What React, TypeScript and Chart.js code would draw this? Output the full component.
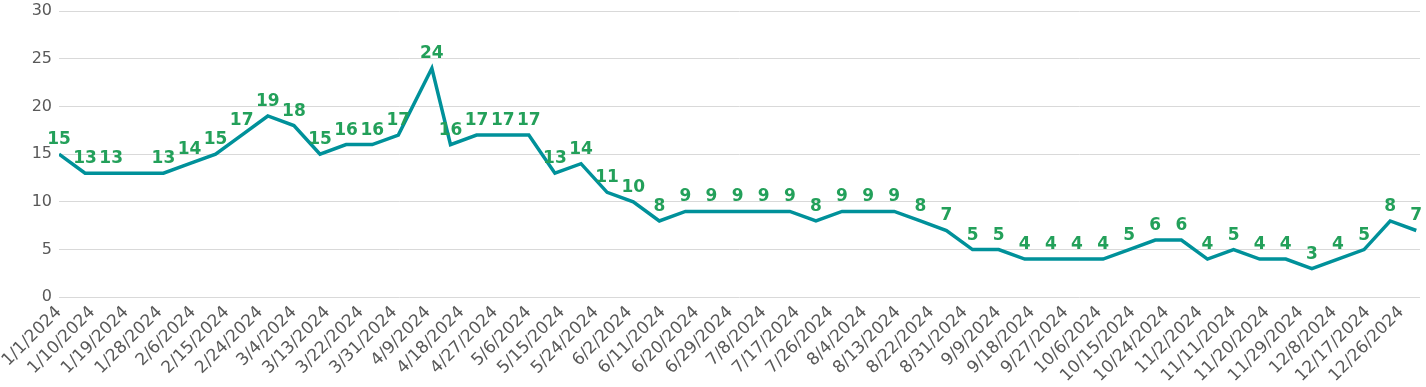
import React, { useEffect, useRef } from "react";
import { Chart, registerables } from "chart.js";

Chart.register(...registerables);

const pointDates = [
  "1/1/2024", "1/8/2024", "1/15/2024", "1/22/2024", "1/29/2024", "2/5/2024", "2/12/2024", "2/19/2024",
  "2/26/2024", "3/4/2024", "3/11/2024", "3/18/2024", "3/25/2024", "4/1/2024", "4/10/2024", "4/15/2024",
  "4/22/2024", "4/29/2024", "5/6/2024", "5/13/2024", "5/20/2024", "5/27/2024", "6/3/2024", "6/10/2024",
  "6/17/2024", "6/24/2024", "7/1/2024", "7/8/2024", "7/15/2024", "7/22/2024", "7/29/2024", "8/5/2024",
  "8/12/2024", "8/19/2024", "8/26/2024", "9/2/2024", "9/9/2024", "9/16/2024", "9/23/2024", "9/30/2024",
  "10/7/2024", "10/14/2024", "10/21/2024", "10/28/2024", "11/4/2024", "11/11/2024", "11/18/2024", "11/25/2024",
  "12/2/2024", "12/9/2024", "12/16/2024", "12/23/2024", "12/30/2024",
];

const pointValues = [
  15, 13, 13, 13, 13, 14, 15, 17,
  19, 18, 15, 16, 16, 17, 24, 16,
  17, 17, 17, 13, 14, 11, 10, 8,
  9, 9, 9, 9, 9, 8, 9, 9,
  9, 8, 7, 5, 5, 4, 4, 4,
  4, 5, 6, 6, 4, 5, 4, 4,
  3, 4, 5, 8, 7,
];

// value labels the reference does not show
const hiddenLabelDates = ["1/22/2024"];

const tickLabels = [
  "1/1/2024", "1/10/2024", "1/19/2024", "1/28/2024", "2/6/2024", "2/15/2024", "2/24/2024", "3/4/2024",
  "3/13/2024", "3/22/2024", "3/31/2024", "4/9/2024", "4/18/2024", "4/27/2024", "5/6/2024", "5/15/2024",
  "5/24/2024", "6/2/2024", "6/11/2024", "6/20/2024", "6/29/2024", "7/8/2024", "7/17/2024", "7/26/2024",
  "8/4/2024", "8/13/2024", "8/22/2024", "8/31/2024", "9/9/2024", "9/18/2024", "9/27/2024", "10/6/2024",
  "10/15/2024", "10/24/2024", "11/2/2024", "11/11/2024", "11/20/2024", "11/29/2024", "12/8/2024", "12/17/2024",
  "12/26/2024",
];

const yTickValues = [0, 5, 10, 15, 20, 25, 30];

const axisStart = "1/1/2024";
const axisEnd = "12/31/2024";

function dayIndex(s: string): number {
  const [m, d, y] = s.split("/").map(Number);
  const [m0, d0, y0] = axisStart.split("/").map(Number);
  return Math.round((Date.UTC(y, m - 1, d) - Date.UTC(y0, m0 - 1, d0)) / 86400000);
}

const FONT = "'DejaVu Sans', sans-serif";

const valueLabelPlugin = {
  id: "valueLabels",
  afterDatasetsDraw(chart: any) {
    const ctx = chart.ctx;
    const meta = chart.getDatasetMeta(0);
    ctx.save();
    ctx.font = `bold 17px ${FONT}`;
    ctx.fillStyle = "#23a05a";
    ctx.textAlign = "center";
    ctx.textBaseline = "alphabetic";
    meta.data.forEach((pt: any, i: number) => {
      if (hiddenLabelDates.includes(pointDates[i])) return;
      ctx.fillText(String(pointValues[i]), pt.x, pt.y - 10);
    });
    ctx.restore();
  },
};

export default function App() {
  const ref = useRef<HTMLCanvasElement | null>(null);

  useEffect(() => {
    document.body.style.margin = "0";
    if (!ref.current) return;
    const chart = new Chart(ref.current, {
      type: "line",
      data: {
        datasets: [
          {
            data: pointDates.map((d, i) => ({ x: dayIndex(d), y: pointValues[i] })),
            borderColor: "#00919a",
            borderWidth: 3.5,
            pointRadius: 0,
            tension: 0,
            fill: false,
          },
        ],
      },
      options: {
        animation: false,
        responsive: true,
        maintainAspectRatio: false,
        layout: { padding: { top: 0, right: 6, bottom: -4, left: 0 } },
        plugins: { legend: { display: false }, tooltip: { enabled: false } },
        scales: {
          x: {
            type: "linear",
            min: dayIndex(axisStart),
            max: dayIndex(axisEnd),
            afterBuildTicks: (scale: any) => {
              scale.ticks = tickLabels.map((t) => ({ value: dayIndex(t) }));
            },
            grid: { display: false, drawTicks: false },
            border: { display: false },
            ticks: {
              autoSkip: false,
              minRotation: 45,
              maxRotation: 45,
              padding: 5,
              color: "#595959",
              font: { family: FONT, size: 17 },
              callback: (_v: any, i: number) => tickLabels[i],
            },
          },
          y: {
            min: 0,
            max: 30,
            afterBuildTicks: (scale: any) => {
              scale.ticks = yTickValues.map((v) => ({ value: v }));
            },
            afterFit: (scale: any) => {
              scale.width = 58;
              scale.paddingTop = 11;
            },
            grid: { color: "#d9d9d9", drawTicks: false, lineWidth: 1 },
            border: { display: false },
            ticks: {
              padding: 7,
              color: "#595959",
              font: { family: FONT, size: 16 },
            },
          },
        },
      },
      plugins: [valueLabelPlugin],
    });
    return () => chart.destroy();
  }, []);

  return (
    <div style={{ width: "1426px", height: "387px", position: "relative" }}>
      <canvas ref={ref} />
    </div>
  );
}
